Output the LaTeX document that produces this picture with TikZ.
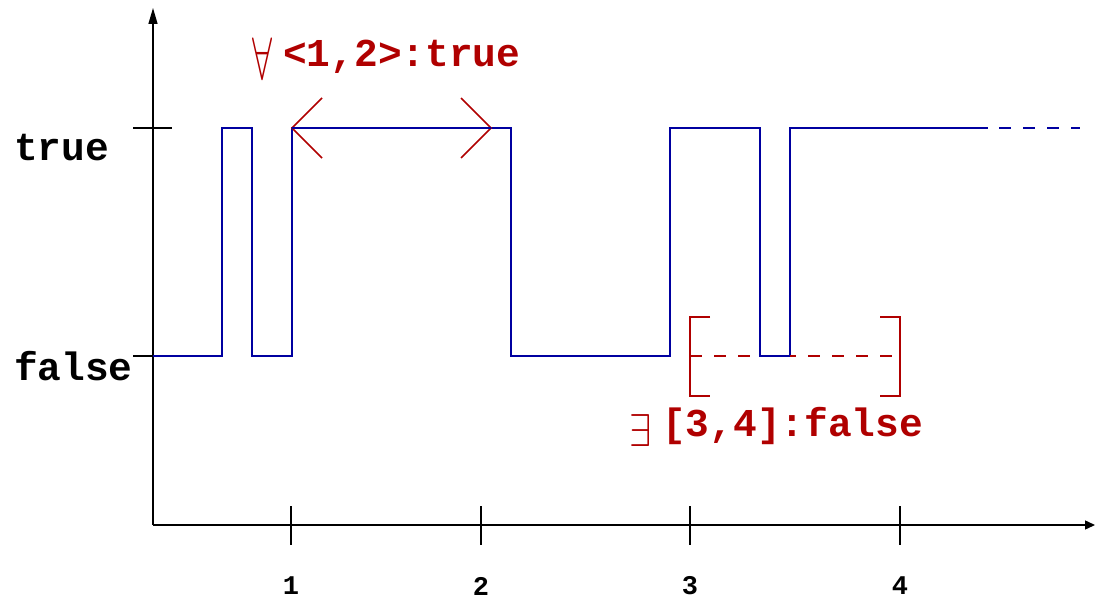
\documentclass[tikz,border=0pt]{standalone}
\usepackage{fontspec}
\setmonofont{Liberation Mono}
\usetikzlibrary{arrows.meta}
\definecolor{sig}{HTML}{0000A0}
\definecolor{ann}{HTML}{B00000}
\tikzset{
  axis/.style={draw=black, line width=1.4pt},
  tickline/.style={draw=black, line width=1.2pt},
  signal/.style={draw=sig, line width=2pt},
  annot/.style={draw=ann, line width=1.6pt},
  lbl/.style={font=\fontsize{39.5}{41}\selectfont\ttfamily\bfseries, inner sep=0pt},
  numlbl/.style={font=\fontsize{27}{29}\selectfont\ttfamily\bfseries, inner sep=0pt},
}
\begin{document}
\begin{tikzpicture}[x=1pt,y=-1pt]
\useasboundingbox (0,0) rectangle (1095,599);
% axes
\coordinate (O) at (153,525);
\coordinate (Ytop) at (153,8);
\coordinate (Xend) at (1095,525);
\draw[axis, -{Triangle[length=16pt,width=9pt]}] (O) -- (Ytop);
\draw[axis, -{Triangle[length=10pt,width=9pt]}] (O) -- (Xend);
% y ticks
\draw[tickline] (133,128) -- (172,128);
\draw[tickline] (133,356) -- (172,356);
\node[lbl, anchor=west] (ltrue) at (14,148) {true};
\node[lbl, anchor=west] (lfalse) at (14,366) {false};
% x ticks
\foreach \x/\n in {291/1,481/2,690/3,900/4}{
  \draw[tickline] (\x,506) -- (\x,545);
  \node[numlbl] (t\n) at (\x,586) {\n};
}
% signal
\draw[signal] (153,356) -- (222,356) -- (222,128) -- (252,128) -- (252,356)
  -- (292,356) -- (292,128) -- (511,128) -- (511,356) -- (670,356)
  -- (670,128) -- (760,128) -- (760,356) -- (790,356) -- (790,128) -- (988,128);
\draw[signal, dash pattern=on 12pt off 12pt] (999,128) -- (1080,128);
% forall annotation
\coordinate (a1) at (292,128);
\coordinate (a2) at (491,128);
\draw[annot] (a1) -- (a2);
\draw[annot] (322,98) -- (a1) -- (322,158);
\draw[annot] (461,98) -- (a2) -- (461,158);
\draw[signal] (292,128) -- (491,128);
\node[inner sep=0pt, text=ann] (fa) at (262,59) {\scalebox{3.6}[6]{$\forall$}};
\node[lbl, text=ann, anchor=west] (fat) at (283,57) {<1,2>:true};
% exists annotation
\draw[annot] (710,317) -- (690,317) -- (690,396) -- (710,396);
\draw[annot] (880,317) -- (900,317) -- (900,396) -- (880,396);
\draw[annot, dash pattern=on 12pt off 12pt] (690,356) -- (760,356);
\draw[signal] (760,356) -- (790,356);
\draw[annot, dash pattern=on 12pt off 12pt, dash phase=6pt] (790,356) -- (900,356);
\node[inner sep=0pt, text=ann] (ex) at (641,431) {\scalebox{4}[4.6]{$\exists$}};
\node[lbl, text=ann, anchor=west] (ext) at (662,426) {[3,4]:false};
\end{tikzpicture}
\end{document}
